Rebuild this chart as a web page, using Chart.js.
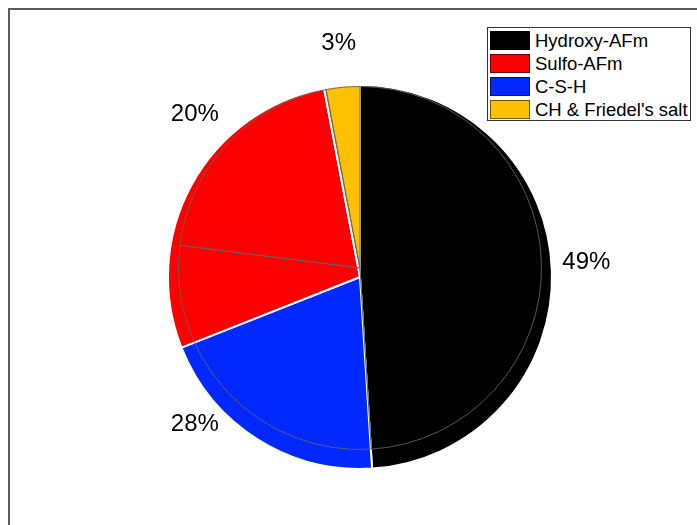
<!DOCTYPE html>
<html>
<head>
<meta charset="utf-8">
<script src="https://cdn.jsdelivr.net/npm/chart.js@4"></script>
<style>
  html, body { margin: 0; padding: 0; background: #fff; }
  #stage { position: relative; width: 697px; height: 525px; overflow: hidden; }
  #stage canvas { position: absolute; left: 0; top: 0; }
  #frame { position: absolute; left: 8px; top: 8px; right: -2px; bottom: -2px;
           border-left: 2px solid #5a5a5a; border-top: 2px solid #5a5a5a; }
  #legend { position: absolute; left: 487px; top: 27px; width: 202px; height: 92px;
            border: 1px solid #333; background: #fff;
            font-family: "Liberation Sans", Arial, sans-serif; font-size: 18.5px; color: #000; }
  .row { position: absolute; left: 2px; height: 23px; display: flex; align-items: center; white-space: nowrap; }
  .sw { width: 40px; height: 19px; box-sizing: border-box; border: 1px solid rgba(0,0,0,0.55); margin-right: 5px; }
</style>
</head>
<body>
<div id="stage">
  <div id="frame"></div>
  <canvas id="base" width="697" height="525"></canvas>
  <canvas id="top" width="697" height="525"></canvas>
  <div id="legend"></div>
</div>
<script>
// Phase names, in legend order
const categories = ['Hydroxy-AFm', 'Sulfo-AFm', 'C-S-H', "CH & Friedel's salt"];
// Share of each phase (%), in legend order; these carry the percentage labels
const shares = [49, 20, 28, 3];
// Shares used by the filled base layer (%), in legend order
const baseShares = [49, 28, 20, 3];
// Clockwise slice order starting at 12 o'clock (indices into categories)
const sliceOrder = [0, 2, 1, 3];

const phaseColors = ['#000000', '#ff0000', '#0028ff', '#ffc000'];
const labelFont = '24px "Liberation Sans", Arial, sans-serif';

const ordered = arr => sliceOrder.map(i => arr[i]);

// Legend
const legend = document.getElementById('legend');
categories.forEach((name, i) => {
  const row = document.createElement('div');
  row.className = 'row';
  row.style.top = (1 + i * 23) + 'px';
  const sw = document.createElement('div');
  sw.className = 'sw';
  sw.style.background = phaseColors[i];
  const txt = document.createElement('span');
  txt.textContent = name;
  row.appendChild(sw);
  row.appendChild(txt);
  legend.appendChild(row);
});

const commonOpts = (padding) => ({
  responsive: false,
  animation: false,
  events: [],
  layout: { padding },
  plugins: { legend: { display: false }, tooltip: { enabled: false } }
});

// Filled base pie
new Chart(document.getElementById('base'), {
  type: 'pie',
  data: {
    labels: ordered(categories),
    datasets: [{
      data: ordered(baseShares),
      backgroundColor: ordered(phaseColors),
      borderColor: '#ffffff',
      borderWidth: 2
    }]
  },
  options: commonOpts({ left: 167, right: 144, top: 84, bottom: 55 })
});

// Outlined top pie with percentage labels
const percentLabels = {
  id: 'percentLabels',
  afterDatasetsDraw(chart) {
    const ctx = chart.ctx;
    const meta = chart.getDatasetMeta(0);
    const values = chart.data.datasets[0].data;
    ctx.save();
    ctx.font = labelFont;
    ctx.fillStyle = '#000';
    ctx.textAlign = 'center';
    ctx.textBaseline = 'middle';
    meta.data.forEach((arc, i) => {
      const mid = (arc.startAngle + arc.endAngle) / 2;
      const r = arc.outerRadius + 45;
      ctx.fillText(values[i] + '%', arc.x + r * Math.cos(mid), arc.y + 1 + r * Math.sin(mid));
    });
    ctx.restore();
  }
};

new Chart(document.getElementById('top'), {
  type: 'pie',
  data: {
    labels: ordered(categories),
    datasets: [{
      data: ordered(shares),
      backgroundColor: 'rgba(0,0,0,0)',
      borderColor: 'rgba(100,100,100,0.85)',
      borderWidth: 1
    }]
  },
  options: commonOpts({ left: 178, right: 155, top: 86, bottom: 75 }),
  plugins: [percentLabels]
});
</script>
</body>
</html>
